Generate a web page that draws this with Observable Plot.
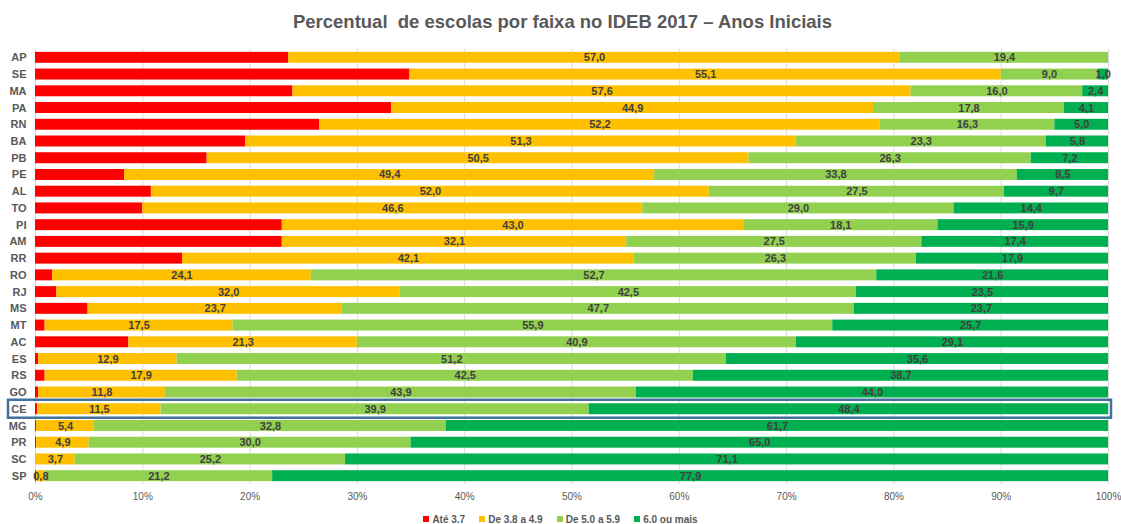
<!DOCTYPE html>
<html>
<head>
<meta charset="utf-8">
<script src="https://cdn.jsdelivr.net/npm/d3@7"></script>
<script src="https://cdn.jsdelivr.net/npm/@observablehq/plot@0.6"></script>
<style>
  body { margin: 0; background: #fff; font-family: "Liberation Sans", Arial, sans-serif; }
  #wrap { width: 1121px; height: 524px; position: relative; overflow: hidden; }
  #title { height: 38px; line-height: 43px; text-align: center; font-size: 18.5px; font-weight: bold; color: #595959; white-space: pre; padding-left: 4px; }
  #legend { display: flex; justify-content: center; gap: 14px; font-size: 10px; font-weight: bold; color: #595959; margin-top: 6px; }
  #legend span.sw { display: inline-block; width: 6px; height: 6px; margin-right: 3px; vertical-align: 1px; }
</style>
</head>
<body>
<div id="wrap">
  <div id="title">Percentual  de escolas por faixa no IDEB 2017 – Anos Iniciais</div>
  <div id="chart"></div>
  <div id="legend"></div>
</div>
<script>
const states = ["AP","SE","MA","PA","RN","BA","PB","PE","AL","TO","PI","AM","RR","RO","RJ","MS","MT","AC","ES","RS","GO","CE","MG","PR","SC","SP"];
const categories = ["Até 3.7","De 3.8 a 4.9","De 5.0 a 5.9","6.0 ou mais"];
const colors = ["#FF0000","#FFC000","#92D050","#00B050"];
const ate37   = [23.6,34.9,24.0,33.2,26.5,19.6,16.0,8.3,10.8,10.0,23.0,23.0,13.7,1.6,2.0,4.9,0.9,8.7,0.3,0.9,0.3,0.2,0.1,0.1,0.0,0.1];
const de38a49 = [57.0,55.1,57.6,44.9,52.2,51.3,50.5,49.4,52.0,46.6,43.0,32.1,42.1,24.1,32.0,23.7,17.5,21.3,12.9,17.9,11.8,11.5,5.4,4.9,3.7,0.8];
const de50a59 = [19.4,9.0,16.0,17.8,16.3,23.3,26.3,33.8,27.5,29.0,18.1,27.5,26.3,52.7,42.5,47.7,55.9,40.9,51.2,42.5,43.9,39.9,32.8,30.0,25.2,21.2];
const mais60  = [0.0,1.0,2.4,4.1,5.0,5.8,7.2,8.5,9.7,14.4,15.9,17.4,17.9,21.6,23.5,23.7,25.7,29.1,35.6,38.7,44.0,48.4,61.7,65.0,71.1,77.9];
const xTicks = [0,10,20,30,40,50,60,70,80,90,100];
const highlight = ["CE"];

const series = [ate37, de38a49, de50a59, mais60];
const rows = [];
states.forEach((s, i) => {
  categories.forEach((c, k) => {
    rows.push({state: s, cat: c, value: series[k][i], labeled: k > 0 && series[k][i] > 0});
  });
});

const fmt = v => v.toFixed(1).replace(".", ",");

const chart = Plot.plot({
  width: 1121,
  height: 470,
  marginTop: 11,
  marginBottom: 24,
  marginLeft: 35,
  marginRight: 13,
  style: {fontFamily: "'Liberation Sans', Arial, sans-serif", background: "#fff"},
  x: {domain: [0, 100], ticks: xTicks, tickFormat: d => d + "%", label: null},
  y: {domain: states, paddingInner: 0.345, paddingOuter: 0.17, round: false, label: null},
  color: {domain: categories, range: colors},
  marks: [
    Plot.ruleX(xTicks, {stroke: "#d9d9d9", strokeWidth: 1}),
    Plot.barX(rows, Plot.stackX({x: "value", y: "state", z: "cat", fill: "cat", order: categories})),
    Plot.text(rows, Plot.stackX({x: "value", y: "state", z: "cat", order: categories,
      text: d => d.labeled ? fmt(d.value) : "",
      fill: "#404040", fontWeight: "bold", fontSize: 11})),
    Plot.barX(highlight, {x1: 0, x2: 100, y: d => d, fill: "none", stroke: "#41719C", strokeWidth: 2.5,
      insetLeft: -27, insetRight: -3, insetTop: -3.5, insetBottom: -3.5}),
    Plot.axisX({ticks: xTicks, tickFormat: d => d + "%", tickSize: 0, tickPadding: 8, fontSize: 10, color: "#595959", label: null}),
    Plot.axisY({tickSize: 0, tickPadding: 9, fontSize: 11, fontWeight: "bold", color: "#595959", label: null})
  ]
});
document.getElementById("chart").appendChild(chart);

const legend = document.getElementById("legend");
categories.forEach((c, k) => {
  const item = document.createElement("div");
  const sw = document.createElement("span");
  sw.className = "sw";
  sw.style.background = colors[k];
  item.appendChild(sw);
  item.appendChild(document.createTextNode(c));
  legend.appendChild(item);
});
</script>
</body>
</html>
